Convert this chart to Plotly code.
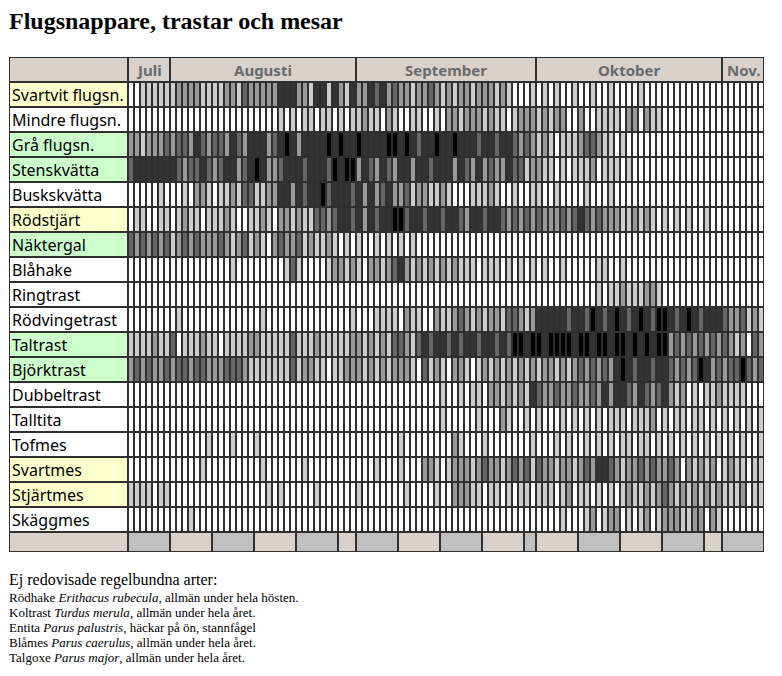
import plotly.graph_objects as go

# ---------------- data ----------------
species = ["Svartvit flugsn.", "Mindre flugsn.", "Grå flugsn.", "Stenskvätta", "Buskskvätta",
           "Rödstjärt", "Näktergal", "Blåhake", "Ringtrast", "Rödvingetrast", "Taltrast",
           "Björktrast", "Dubbeltrast", "Talltita", "Tofmes", "Svartmes", "Stjärtmes", "Skäggmes"]
label_bg = ["#ffffcc", "#ffffff", "#ccffcc", "#ccffcc", "#ffffff", "#ffffcc", "#ccffcc", "#ffffff",
            "#ffffff", "#ffffff", "#ccffcc", "#ccffcc", "#ffffff", "#ffffff", "#ffffff", "#ffffcc",
            "#ffffcc", "#ffffff"]
months = ["Juli", "Augusti", "September", "Oktober", "Nov."]
month_days = [7, 31, 30, 31, 7]          # days shown per month (25 Jul - 7 Nov)
week_blocks = [7, 7, 7, 7, 7, 3, 7, 7, 7, 7, 2, 7, 7, 7, 7, 3, 7]   # bottom row week blocks (days)

# abundance level per day: 0 none .. 5 max
svartvit = [0,0,1,1,1,1,1,
            1,2,2,2,2,1,1,1,1,2,2,1,3,2,2,2,2,2,4,4,4,2,2,1,4,4,1,4,2,1,4,
            2,2,4,3,4,2,3,2,2,1,2,2,3,2,1,2,1,2,2,1,2,2,2,1,2,1,0,0,0,1,
            0,1,0,1,0,0,1,0,0,1,0,0,1,0,0,0,0,1,0,0,0,0,0,0,0,0,0,0,0,0,0,
            0,0,0,0,0,0,0]
mindre = [0,0,0,0,0,0,0,
          0,0,0,0,0,0,0,0,0,0,0,0,0,0,0,0,0,0,1,0,1,0,1,1,0,1,1,0,1,0,1,
          1,2,1,1,0,2,1,0,0,1,1,0,0,1,0,2,2,1,2,2,2,1,2,1,1,0,1,2,2,2,
          1,2,1,2,2,0,0,2,0,0,1,1,1,1,0,2,2,0,2,1,1,0,0,0,0,0,0,0,0,0,0,
          0,0,0,0,0,0,0]
gra = [2,2,1,2,2,2,3,
       2,3,3,2,4,3,2,3,3,2,4,3,2,4,4,4,2,3,4,5,4,2,4,4,4,4,5,4,5,4,4,
       5,4,4,4,4,5,5,4,5,4,3,4,4,5,4,4,5,4,4,4,3,4,4,3,4,4,3,2,3,2,
       1,2,1,0,1,1,1,2,3,3,2,1,1,0,1,0,0,0,0,0,0,0,0,0,0,0,0,0,0,0,0,
       0,0,0,0,0,0,0]
sten = [3,4,4,4,4,4,4,
        4,3,2,3,3,4,3,2,3,4,4,2,3,4,5,4,2,2,3,4,4,4,3,4,4,4,3,5,4,5,5,
        2,4,3,2,4,3,2,4,4,2,4,4,3,4,4,4,2,4,3,2,4,2,3,2,2,4,3,3,1,2,
        2,1,1,0,1,0,1,1,1,2,0,1,1,1,0,1,0,0,0,0,0,0,0,0,0,0,0,0,0,0,0,
        0,0,0,0,0,0,0]
busk = [0,0,0,0,0,1,0,
        0,0,1,0,2,2,1,0,1,1,2,1,3,3,1,1,2,2,4,4,2,4,3,4,4,5,3,4,4,4,3,
        4,2,4,2,3,4,2,2,3,1,2,2,1,1,2,1,0,0,0,1,1,1,2,1,0,0,1,0,0,1,
        1,0,0,1,0,0,0,0,1,0,0,0,1,0,0,0,0,0,0,0,0,0,0,0,0,0,0,0,0,0,0,
        0,0,0,0,0,0,0]
rodstjart = [0,1,1,0,0,1,1,
             0,1,2,1,1,0,1,1,1,2,1,0,0,1,1,2,1,0,2,2,1,2,1,1,3,3,2,3,4,4,3,
             4,2,4,3,4,4,5,5,3,4,4,3,4,4,3,4,4,3,2,4,4,3,4,4,3,2,3,2,3,2,
             3,2,2,2,3,2,3,4,3,2,3,2,2,2,1,1,2,1,2,1,0,1,0,1,0,1,0,0,1,0,0,
             0,0,0,0,0,0,0]
naktergal = [3,2,3,2,3,2,3,
             1,2,3,2,3,2,2,2,3,2,1,2,3,1,2,1,0,2,3,2,2,3,1,2,1,1,2,1,0,1,0,
             1,0,0,1,0,1,0,1,0,1,0,0,0,0,0,0,0,0,0,0,0,0,0,0,0,0,0,0,0,0,
             0,0,0,0,0,0,0,0,0,0,0,0,0,0,0,0,0,0,0,0,0,0,0,0,0,0,0,0,0,0,0,
             0,0,0,0,0,0,0]
blahake = [0,0,0,0,0,0,0,
           0,0,0,0,0,0,0,0,0,0,1,0,0,0,0,0,0,0,0,1,3,1,0,0,0,0,1,2,2,1,2,
           1,0,2,2,1,2,3,4,2,1,2,1,2,1,2,1,2,1,1,1,0,1,1,1,0,1,0,1,0,1,
           0,1,0,0,1,0,0,0,0,0,1,1,0,0,1,0,0,0,0,0,0,0,0,0,0,0,0,0,0,0,0,
           0,0,0,0,0,0,0]
ringtrast = [0,0,0,0,0,0,0,
             0,0,0,0,0,0,0,0,0,0,0,0,0,0,0,0,0,0,0,0,0,0,0,0,0,0,0,0,0,0,0,
             0,0,0,0,0,0,0,0,0,0,0,0,0,0,0,0,0,0,0,0,0,0,0,0,0,0,0,0,0,0,
             0,0,0,0,0,0,0,0,0,0,1,0,1,1,2,1,1,1,2,2,1,0,0,0,0,0,0,0,0,0,0,
             0,0,0,0,0,0,0]
rodvinge = [0,0,0,0,0,0,0,
            0,1,0,0,0,0,0,0,0,0,0,0,0,0,0,1,0,0,0,0,0,0,0,0,0,0,0,0,0,0,1,
            0,0,0,1,1,1,1,0,2,1,1,0,0,2,1,1,2,3,2,1,2,1,2,2,1,3,3,2,1,2,
            4,4,4,4,4,3,4,4,3,5,4,3,4,5,4,3,4,5,4,3,5,5,4,3,4,5,4,3,4,4,4,
            3,2,2,3,1,2,1]
taltrast = [1,1,1,1,2,1,1,
            3,0,1,1,1,2,1,1,0,1,1,1,1,2,2,1,1,1,1,1,3,1,1,1,2,1,1,1,1,1,2,
            2,1,2,1,2,1,3,3,2,1,3,4,3,4,4,3,4,3,4,4,3,4,4,3,4,3,5,5,4,5,
            5,4,5,5,5,5,4,5,5,4,5,5,4,5,5,4,5,4,5,4,5,5,2,3,2,3,2,3,2,3,2,
            3,2,1,2,0,3,2]
bjork = [2,3,2,3,2,2,3,
         2,3,3,2,3,3,2,2,2,3,3,3,2,1,1,1,1,1,1,1,3,1,2,2,1,1,0,1,1,2,2,
         2,1,2,1,2,1,2,2,2,1,0,3,1,2,1,0,2,2,1,0,1,2,1,2,1,2,1,2,1,2,
         1,2,2,1,2,1,2,3,2,3,2,3,2,4,5,4,3,4,4,3,4,4,3,2,3,2,3,5,4,2,3,
         2,3,3,5,3,2,3]
dubbel = [0,0,0,0,0,0,0,
          0,0,0,0,0,0,0,0,0,0,0,0,0,0,0,0,0,0,0,0,0,0,0,0,0,0,0,0,0,0,0,
          0,0,0,0,0,0,0,0,0,0,0,0,0,0,1,0,0,1,0,1,1,0,2,2,1,2,1,2,1,4,
          3,2,2,3,2,2,3,2,2,3,2,4,2,4,4,3,2,4,3,2,3,4,2,1,2,0,1,0,1,1,2,
          1,1,1,1,0,0,0]
talltita = [0,0,0,0,0,0,0,
            0,0,0,0,0,0,0,0,0,0,0,0,0,0,0,0,0,0,0,0,0,0,0,0,0,0,0,0,0,0,0,
            0,0,0,0,0,0,0,0,0,0,0,0,0,0,1,0,0,0,0,0,1,0,0,0,2,1,0,0,1,0,
            1,0,0,0,1,0,1,0,1,0,1,0,1,1,1,0,1,1,1,2,0,1,0,1,1,0,1,1,0,1,0,
            1,0,1,0,1,0,1]
tofmes = [0,0,0,0,0,0,0,
          0,0,0,0,0,0,1,0,0,0,1,0,0,0,1,0,0,0,0,0,0,0,0,0,0,0,0,0,0,0,0,
          0,0,0,0,0,0,0,1,0,0,0,0,0,0,0,0,2,1,0,0,0,1,0,0,0,0,0,0,0,1,
          0,0,0,1,0,1,0,0,1,0,1,0,1,0,1,1,0,1,1,0,1,0,1,0,1,0,1,0,1,0,1,
          0,1,0,1,0,0,1]
svartmes = [0,0,0,0,0,0,0,
            0,0,0,0,0,1,0,0,0,0,0,0,0,0,0,1,0,0,0,0,0,0,1,0,0,0,0,0,0,0,0,
            0,0,0,1,0,0,0,1,0,0,0,2,2,1,0,1,2,2,2,1,2,3,2,2,1,2,3,2,3,1,
            3,2,2,1,2,2,1,2,3,2,4,4,3,2,1,2,2,3,2,3,2,2,3,2,0,2,1,2,1,2,0,
            1,2,1,1,0,1,1]
stjartmes = [1,1,1,1,0,1,1,
             0,0,0,0,0,0,0,0,0,0,0,0,0,0,0,0,1,0,1,0,0,0,0,0,1,0,0,0,0,0,0,
             1,0,0,0,0,0,0,0,1,0,0,0,0,1,0,0,2,2,2,1,1,0,1,1,0,1,0,1,1,0,
             1,1,1,0,1,2,0,1,1,0,1,0,1,0,1,2,1,1,2,1,2,3,2,1,2,1,2,1,2,1,2,
             1,1,1,2,0,1,1]
skaggmes = [0,0,0,0,0,0,0,
            0,0,0,1,0,0,0,0,0,0,0,0,0,0,0,0,0,0,0,0,0,0,0,0,0,0,0,0,0,0,0,
            0,0,0,0,0,0,0,0,0,0,0,0,0,0,0,0,0,0,0,0,0,0,0,0,0,0,0,0,0,0,
            0,0,0,0,1,0,0,0,1,2,0,1,2,2,0,1,0,1,2,0,1,2,2,2,1,1,2,2,0,2,1,
            0,0,0,0,0,0,0]

rows = [svartvit, mindre, gra, sten, busk, rodstjart, naktergal, blahake, ringtrast,
        rodvinge, taltrast, bjork, dubbel, talltita, tofmes, svartmes, stjartmes, skaggmes]

notes_title = "Ej redovisade regelbundna arter:"
notes = ["Rödhake <i>Erithacus rubecula</i>, allmän under hela hösten.",
         "Koltrast <i>Turdus merula</i>, allmän under hela året.",
         "Entita <i>Parus palustris</i>, häckar på ön, stannfågel",
         "Blåmes <i>Parus caerulus</i>, allmän under hela året.",
         "Talgoxe <i>Parus major</i>, allmän under hela året."]

# ---------------- styling ----------------
NCOL = sum(month_days)
NROW = len(species)
for r in rows:
    assert len(r) == NCOL, len(r)

LINE = "#2f2f2f"
BEIGE = "#d9d1ca"
GRAY = "#c0c0c0"
LABEL_FONT = "Comic Sans MS, Noto Sans, sans-serif"
SERIF = "Liberation Serif, Times New Roman, serif"

PAGE = 8                      # default body margin of the html page
W, H = 782, 676
ML, MT = 9 - PAGE, 57 - PAGE
PLOT_W, PLOT_H = 755, 495
MR = W - ML - PLOT_W
MB = H - MT - PLOT_H
PX = NCOL / 636.0             # one pixel in x data units
LABEL_W = 119 * PX            # label column width in data units
HEAD_H = 1.0
FOOT_H = 0.8
PY = 1 / 25.0

colorscale = [[0.0, "#ffffff"], [0.2, "#cccccc"], [0.4, "#999999"],
              [0.6, "#666666"], [0.8, "#333333"], [1.0, "#000000"]]

fig = go.Figure(go.Heatmap(
    z=rows,
    x=[i + 0.5 for i in range(NCOL)],
    y=[j + 0.5 for j in range(NROW)],
    zmin=0, zmax=5, colorscale=colorscale,
    xgap=2, ygap=2, showscale=False, hoverinfo="skip"))

shapes = []
annotations = []

def rect(x0, x1, y0, y1, color):
    shapes.append(dict(type="rect", xref="x", yref="y", x0=x0, x1=x1, y0=y0, y1=y1,
                       fillcolor=color, line=dict(width=0), layer="above"))

# label column
for j, name in enumerate(species):
    rect(-LABEL_W + PX, -PX, j + PY, j + 1 - PY, label_bg[j])
    annotations.append(dict(x=-LABEL_W + 1.0 * PX, y=j + 0.5, xref="x", yref="y",
                            text=name, showarrow=False, xanchor="left", yanchor="middle",
                            font=dict(family=LABEL_FONT, size=16, color="black")))

# header row with months
rect(-LABEL_W + PX, -PX, -HEAD_H + PY, -PY, BEIGE)
start = 0
for m, nd in zip(months, month_days):
    rect(start + PX, start + nd - PX, -HEAD_H + PY, -PY, BEIGE)
    annotations.append(dict(x=start + nd / 2.0, y=-HEAD_H / 2.0, xref="x", yref="y",
                            text="<b>%s</b>" % m, showarrow=False,
                            xanchor="center", yanchor="middle",
                            font=dict(family=LABEL_FONT, size=15, color="#6a6a6a")))
    start += nd

# bottom row with week blocks
rect(-LABEL_W + PX, -PX, NROW + PY, NROW + FOOT_H - PY, BEIGE)
start = 0
for k, nd in enumerate(week_blocks):
    rect(start + PX, start + nd - PX, NROW + PY, NROW + FOOT_H - PY,
         GRAY if k % 2 == 0 else BEIGE)
    start += nd

# title and notes (paper coordinates, from page pixel positions)
def py(page_y):
    return (MT + PLOT_H - (page_y - PAGE)) / PLOT_H

def pxp(page_x):
    return (page_x - PAGE - ML) / PLOT_W

annotations.append(dict(x=pxp(7), y=py(21), xref="paper", yref="paper", xanchor="left",
                        yanchor="middle", showarrow=False,
                        text="<b>Flugsnappare, trastar och mesar</b>",
                        font=dict(family=SERIF, size=24, color="black")))
annotations.append(dict(x=pxp(7), y=py(580), xref="paper", yref="paper", xanchor="left",
                        yanchor="middle", showarrow=False, text=notes_title,
                        font=dict(family=SERIF, size=16, color="black")))
for k, t in enumerate(notes):
    annotations.append(dict(x=pxp(7), y=py(597 + 15 * k), xref="paper", yref="paper",
                            xanchor="left", yanchor="middle", showarrow=False, text=t,
                            font=dict(family=SERIF, size=13, color="black")))

fig.update_layout(
    width=W, height=H,
    margin=dict(l=ML, r=MR, t=MT, b=MB, pad=0),
    paper_bgcolor="white", plot_bgcolor=LINE,
    xaxis=dict(range=[-LABEL_W, NCOL], visible=False, fixedrange=True),
    yaxis=dict(range=[NROW + FOOT_H, -HEAD_H], visible=False, fixedrange=True),
    shapes=shapes, annotations=annotations, showlegend=False)

fig.write_html("out.html")
